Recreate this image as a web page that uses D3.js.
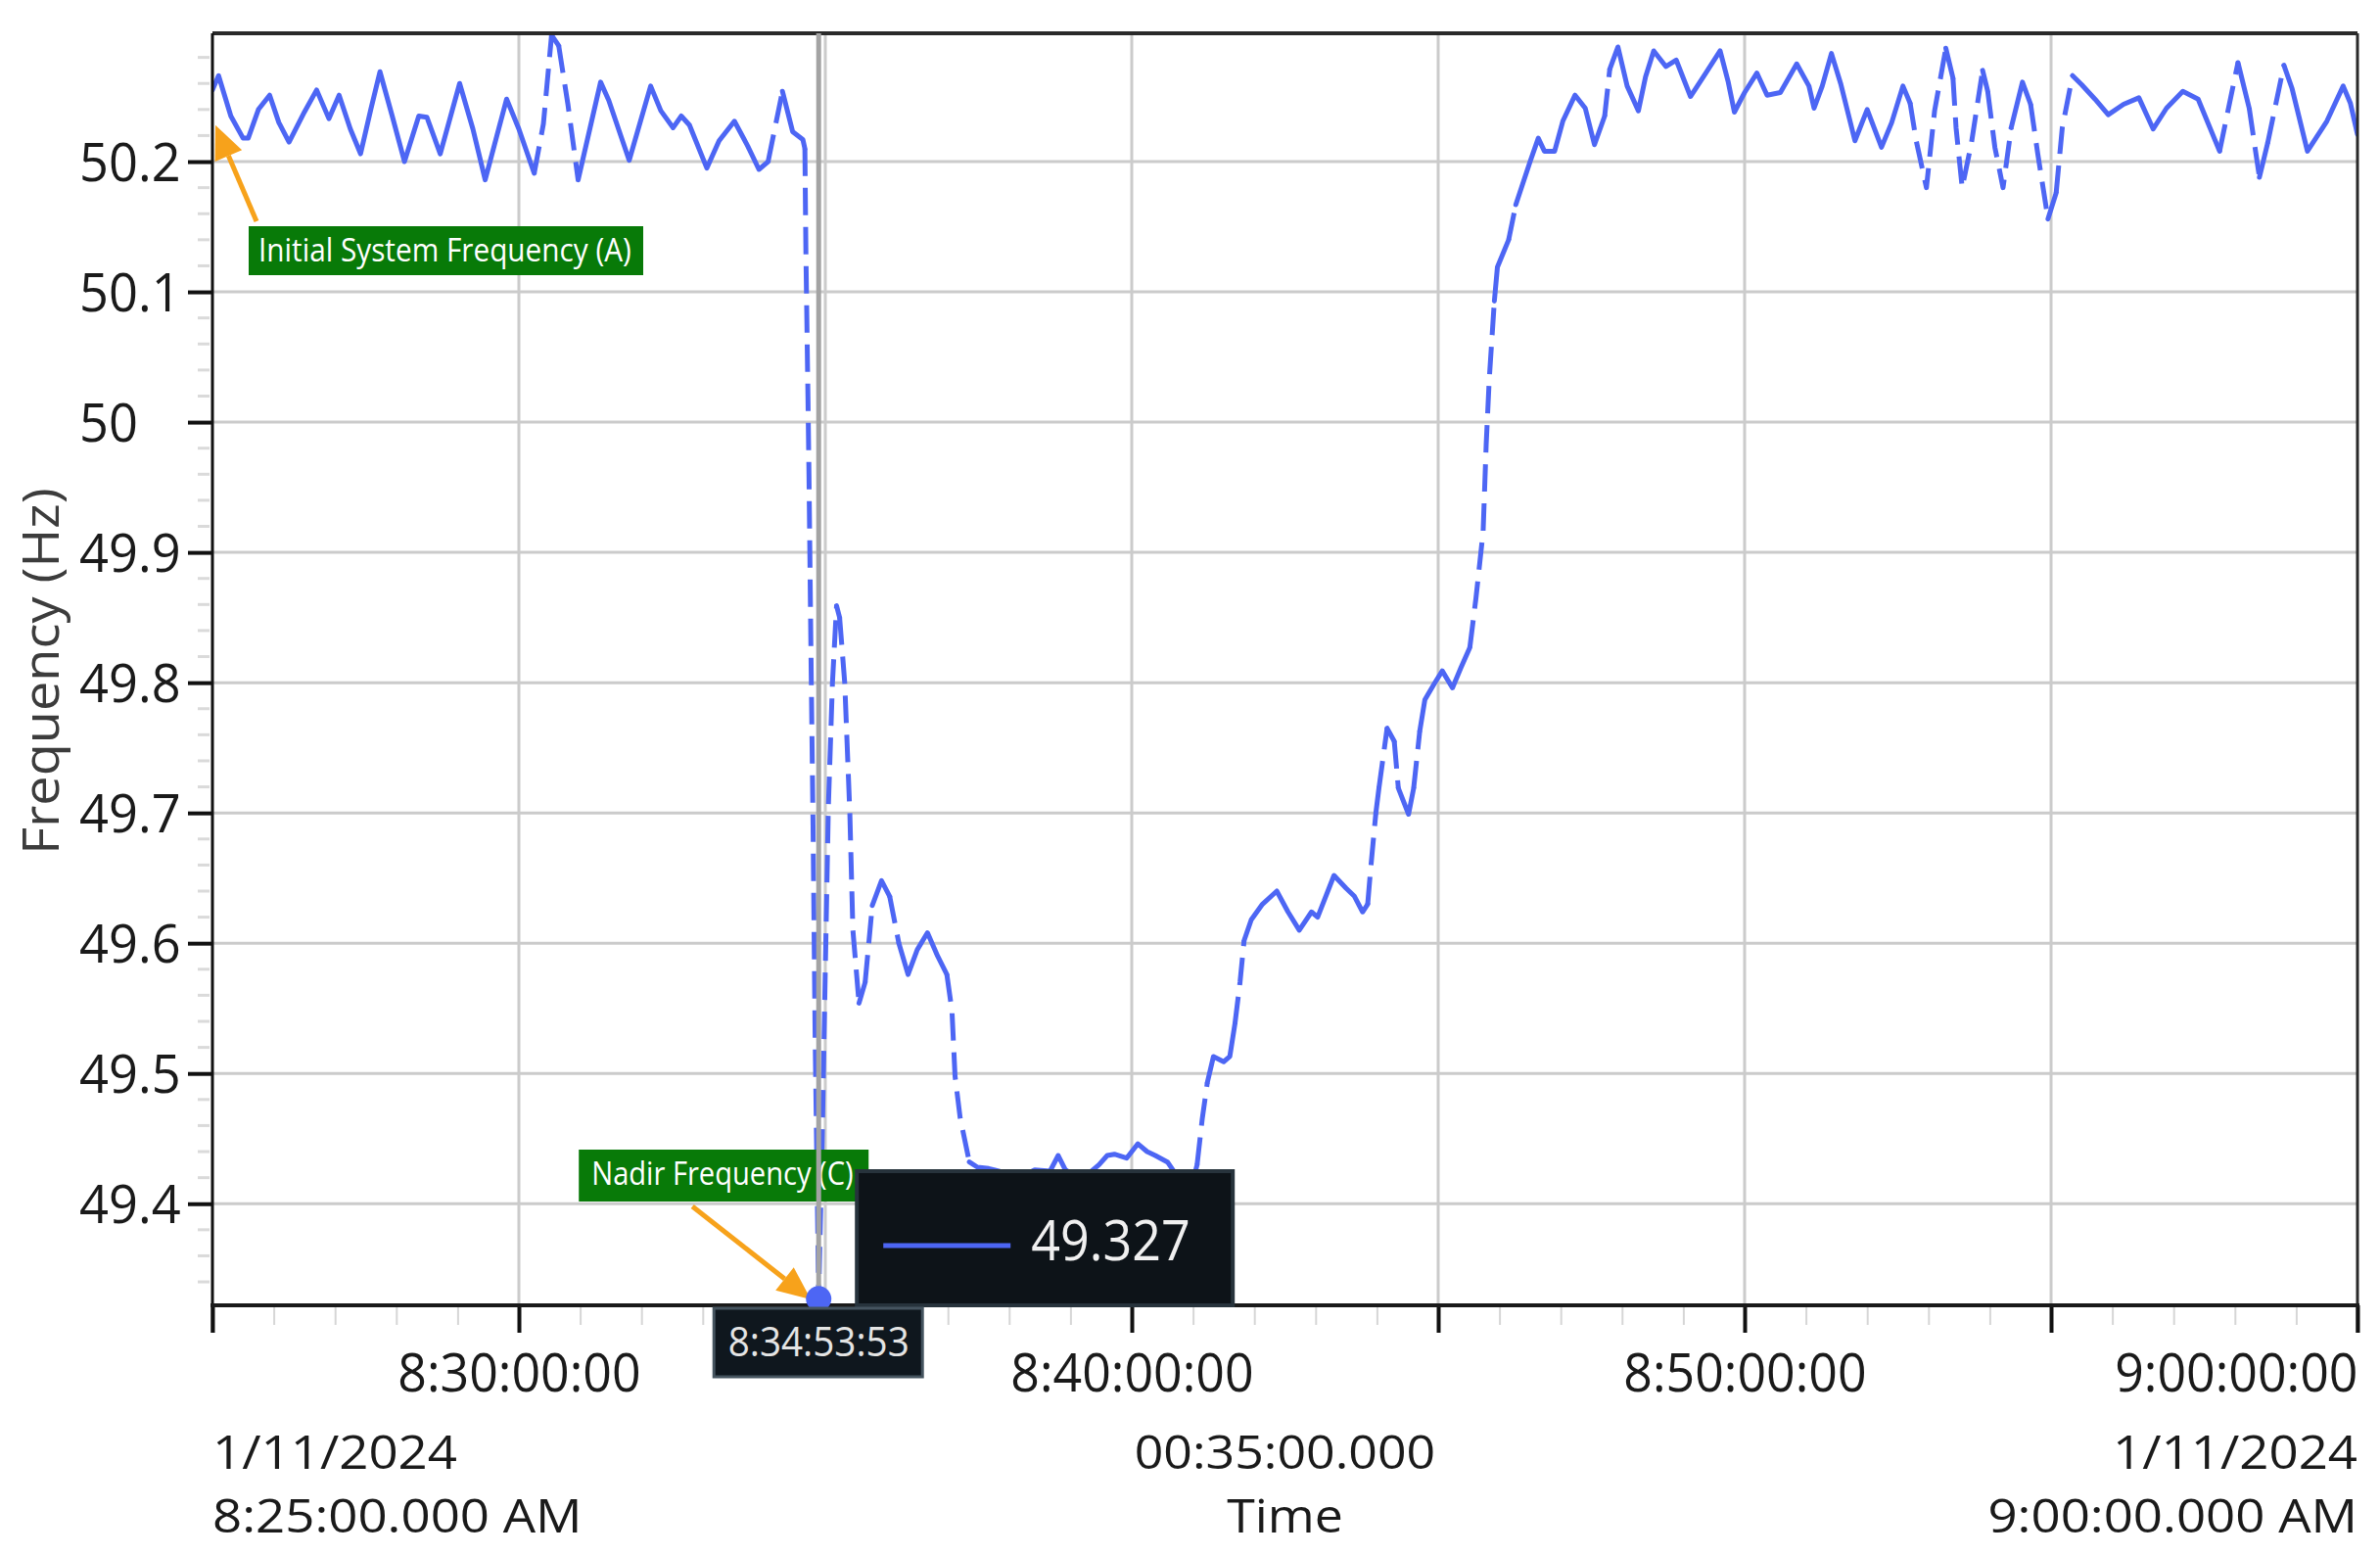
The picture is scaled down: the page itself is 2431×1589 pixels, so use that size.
<!DOCTYPE html>
<html>
<head>
<meta charset="utf-8">
<script src="https://cdn.jsdelivr.net/npm/d3@7"></script>
<style>
  body { margin: 0; background: #ffffff; }
  text { font-family: "Open Sans", "Noto Sans", sans-serif; }
</style>
</head>
<body>
<div id="chart_area"></div>
<script>
// frequency samples, [seconds after 8:25:00, Hz]
var beforeTrip = [[0,50.255],[6,50.266],[18,50.235],[30,50.218],[35,50.218],[45,50.240],[56,50.251],[65,50.230],[75,50.215],[90,50.238],[102,50.255],[114,50.233],[124,50.251],[135,50.225],[145,50.206],[155,50.240],[164,50.269],[176,50.235],[188,50.200],[202,50.235],[210,50.234],[223,50.206],[242,50.260],[255,50.225],[267,50.186],[288,50.248],[300,50.225],[315,50.191],[324,50.229],[332,50.297],[339,50.289],[348,50.244],[358,50.186],[380,50.261],[388,50.247],[408,50.201],[429,50.258],[439,50.239],[451,50.226],[459,50.235],[467,50.228],[484,50.195],[496,50.216],[511,50.231],[524,50.212],[535,50.194],[544,50.200],[558,50.254],[568,50.223],[578,50.217]];
var dropEvent = [[580,50.210],[581,50.130],[583,50.020],[584,49.960],[586,49.820],[588,49.690],[590,49.530],[593.5,49.327],[597,49.450],[600,49.580],[603,49.705],[607,49.800],[611,49.859],[614,49.850],[619,49.800],[624,49.700],[627,49.610],[633,49.554],[639,49.570],[646,49.629],[655,49.648],[663,49.636],[672,49.600],[681,49.576],[690,49.595],[700,49.608],[710,49.590],[719,49.576],[724,49.548],[727,49.498],[732,49.466],[741,49.432]];
var troughHold = [[749,49.428],[760,49.427],[775,49.424],[790,49.420],[805,49.426],[820,49.425],[828,49.437],[835,49.426],[850,49.418],[868,49.430],[876,49.437],[883,49.438],[895,49.435],[906,49.446],[915,49.440],[923,49.437],[935,49.432],[942,49.424],[950,49.415],[958,49.412],[964,49.430]];
var recovery = [[969,49.465],[974,49.493],[980,49.513],[990,49.509],[996,49.513],[1001,49.538],[1006,49.570],[1010,49.602],[1017,49.618],[1028,49.630],[1042,49.640],[1053,49.624],[1064,49.610],[1076,49.624],[1082,49.620],[1098,49.652],[1110,49.642],[1118,49.636],[1126,49.624],[1131,49.630],[1134,49.658],[1139,49.700],[1142,49.719],[1150,49.765],[1157,49.755],[1161,49.719],[1171,49.699],[1176,49.719],[1182,49.763],[1187,49.787],[1196,49.799],[1204,49.809],[1214,49.796],[1222,49.811],[1231,49.827],[1237,49.865],[1244,49.916],[1247,49.983],[1250,50.033],[1255,50.093],[1258,50.119],[1269,50.140],[1276,50.167],[1290,50.200],[1298,50.218],[1304,50.208],[1314,50.208],[1322,50.231],[1334,50.251],[1344,50.241],[1353,50.213],[1363,50.235],[1368,50.271],[1376,50.288]];
var afterRecovery = [[1385,50.258],[1396,50.239],[1403,50.265],[1411,50.285],[1423,50.273],[1433,50.278],[1447,50.250],[1462,50.268],[1476,50.285],[1484,50.261],[1490,50.238],[1500,50.253],[1512,50.268],[1522,50.251],[1535,50.253],[1551,50.275],[1563,50.258],[1568,50.241],[1576,50.258],[1585,50.283],[1594,50.260],[1608,50.216],[1620,50.240],[1634,50.211],[1644,50.230],[1655,50.258],[1662,50.245],[1668,50.216],[1678,50.180],[1686,50.239],[1697,50.287],[1704,50.264],[1707,50.226],[1713,50.180],[1722,50.214],[1733,50.270],[1738,50.254],[1745,50.211],[1753,50.180],[1761,50.226],[1772,50.261],[1780,50.244],[1787,50.206],[1797,50.156],[1805,50.176],[1811,50.226],[1821,50.266],[1830,50.259],[1843,50.248],[1856,50.236],[1871,50.244],[1886,50.249],[1900,50.225],[1913,50.241],[1929,50.254],[1944,50.248],[1965,50.208],[1983,50.276],[1994,50.241],[2004,50.188],[2012,50.214],[2028,50.274],[2036,50.256],[2051,50.208],[2070,50.231],[2086,50.258],[2093,50.245],[2100,50.221]];

// nadir cursor
var nadirPoint = [593.5, 49.327];
var nadirTimeLabel = "8:34:53:53";
var nadirValueLabel = "49.327";

// axis texts
var yTicks = [49.4, 49.5, 49.6, 49.7, 49.8, 49.9, 50, 50.1, 50.2];
var yTitle = "Frequency (Hz)";
var xTitle = "Time";
var leftDate = ["1/11/2024", "8:25:00.000 AM"];
var rightDate = ["1/11/2024", "9:00:00.000 AM"];
var spanLabel = "00:35:00.000";
var noteInitial = "Initial System Frequency (A)";
var noteNadir = "Nadir Frequency (C)";

var startTime = new Date(2024, 0, 11, 8, 25, 0);
var endTime = new Date(2024, 0, 11, 9, 0, 0);

// set the dimensions and margins of the graph
var margin = {top: 34, right: 23, bottom: 256, left: 217};
var width = 2431 - margin.left - margin.right;
var height = 1589 - margin.top - margin.bottom;

var lineBlue = "#4d66f4";
var gridGrey = "#cbcbcb";
var arrowOrange = "#f7a21b";
var labelGreen = "#087a08";

var svg = d3.select("#chart_area")
    .append("svg")
    .attr("width", 2431)
    .attr("height", 1589)
    .style("display", "block")
    .style("background", "#ffffff");

var toDate = function(s) { return new Date(startTime.getTime() + s * 1000); };

var xPosition = d3.scaleTime()
    .domain([startTime, endTime])
    .range([0, width]);

var yPosition = d3.scaleLinear()
    .domain([49.322, 50.2985])
    .range([height, 0]);

// text with horizontal squeeze
var label = function(parent, x, y, str, size, anchor, squeeze, fill) {
    return parent.append("text")
        .attr("transform", "translate(" + x + "," + y + ") scale(" + squeeze + ",1)")
        .attr("text-anchor", anchor)
        .attr("font-size", size)
        .attr("fill", fill)
        .text(str);
};

var plot = svg.append("g")
    .attr("transform", "translate(" + margin.left + "," + margin.top + ")");

// grid
var gridTimes = xPosition.ticks(d3.timeMinute.every(5)).filter(function(d) {
    return d > startTime && d < endTime;
});
plot.selectAll(".vgrid")
    .data(gridTimes)
    .enter().append("line")
    .attr("x1", d => xPosition(d)).attr("x2", d => xPosition(d))
    .attr("y1", 0).attr("y2", height)
    .attr("stroke", gridGrey).attr("stroke-width", 3);
plot.selectAll(".hgrid")
    .data(yTicks)
    .enter().append("line")
    .attr("x1", 0).attr("x2", width)
    .attr("y1", d => yPosition(d)).attr("y2", d => yPosition(d))
    .attr("stroke", gridGrey).attr("stroke-width", 3);

// minor ticks
var yMinor = d3.range(0, 50).map(i => +(49.32 + i * 0.02).toFixed(2))
    .filter(v => v >= 49.322 && v <= 50.2985 && Math.round(v * 100) % 10 !== 0);
plot.selectAll(".yminor")
    .data(yMinor)
    .enter().append("line")
    .attr("x1", -15).attr("x2", -3)
    .attr("y1", d => yPosition(d)).attr("y2", d => yPosition(d))
    .attr("stroke", "#dadada").attr("stroke-width", 3);

var xMinorAxis = d3.axisBottom(xPosition)
    .ticks(d3.timeMinute.every(1))
    .tickSize(20)
    .tickFormat("");
var xMinorG = plot.append("g")
    .attr("transform", "translate(0," + height + ")")
    .call(xMinorAxis);
xMinorG.select(".domain").remove();
xMinorG.selectAll(".tick line").attr("stroke", "#d6d6d6").attr("stroke-width", 2);

// frequency line
var series = beforeTrip.concat(dropEvent, troughHold, recovery, afterRecovery)
    .map(function(d) { return {date: toDate(d[0]), value: d[1]}; });

plot.append("clipPath")
    .attr("id", "plotClip")
    .append("rect")
    .attr("x", 0).attr("y", 0).attr("width", width).attr("height", height);

// steep stretches are drawn broken, as in the recorder trace
var runs = [];
var cur = null;
for (var i = 1; i < series.length; i++) {
    var dx = Math.abs(xPosition(series[i].date) - xPosition(series[i - 1].date));
    var dy = Math.abs(yPosition(series[i].value) - yPosition(series[i - 1].value));
    var steep = dy > 35 && dy > 4.5 * dx;
    if (!cur || cur.steep !== steep) {
        cur = {steep: steep, pts: [series[i - 1]]};
        runs.push(cur);
    }
    cur.pts.push(series[i]);
}

var line = d3.line()
    .x(d => xPosition(d.date))
    .y(d => yPosition(d.value));

plot.append("g")
    .attr("clip-path", "url(#plotClip)")
    .selectAll("path")
    .data(runs)
    .enter().append("path")
    .attr("d", d => line(d.pts))
    .attr("fill", "none")
    .attr("stroke", lineBlue)
    .attr("stroke-width", 5)
    .attr("stroke-linejoin", "round")
    .attr("stroke-linecap", d => d.steep ? "butt" : "round")
    .attr("stroke-dasharray", d => d.steep ? "28 12" : null);

// frame
plot.append("line")
    .attr("x1", 0).attr("x2", width).attr("y1", 0).attr("y2", 0)
    .attr("stroke", "#2a2a2a").attr("stroke-width", 4);
plot.append("line")
    .attr("x1", width).attr("x2", width).attr("y1", 0).attr("y2", height + 28)
    .attr("stroke", "#2a2a2a").attr("stroke-width", 3);

// y axis
var yAxis = d3.axisLeft(yPosition)
    .tickValues(yTicks)
    .tickSize(25)
    .tickFormat(d3.format("~g"));
var yG = plot.append("g").call(yAxis);
yG.select(".domain").remove();
yG.selectAll(".tick line").attr("stroke", "#111").attr("stroke-width", 4);
yG.selectAll(".tick text")
    .attr("x", null).attr("dy", null)
    .attr("transform", "translate(-136,19) scale(0.97,1)")
    .attr("text-anchor", "start")
    .attr("font-size", 54)
    .attr("font-family", "'Open Sans', 'Noto Sans', sans-serif")
    .attr("fill", "#1a1a1a");
plot.append("line")
    .attr("x1", 0).attr("x2", 0).attr("y1", 0).attr("y2", height + 28)
    .attr("stroke", "#111").attr("stroke-width", 3);

// x axis
var hmsf = function(d) { return d3.timeFormat("%-I:%M:%S")(d) + ":00"; };
var xAxis = d3.axisBottom(xPosition)
    .ticks(d3.timeMinute.every(5))
    .tickSize(28)
    .tickFormat(d => (d.getMinutes() % 10 === 0 && d > startTime) ? hmsf(d) : "");
var xG = plot.append("g")
    .attr("transform", "translate(0," + height + ")")
    .call(xAxis);
xG.select(".domain").remove();
xG.selectAll(".tick line").attr("stroke", "#111").attr("stroke-width", 4);
xG.selectAll(".tick text")
    .attr("y", null).attr("dy", null)
    .attr("transform", "translate(0,88) scale(0.96,1)")
    .attr("text-anchor", d => d.getTime() === endTime.getTime() ? "end" : "middle")
    .attr("font-size", 54)
    .attr("font-family", "'Open Sans', 'Noto Sans', sans-serif")
    .attr("fill", "#1a1a1a");
plot.append("line")
    .attr("x1", -2).attr("x2", width + 2).attr("y1", height).attr("y2", height)
    .attr("stroke", "#1a1a1a").attr("stroke-width", 4);

// date and span rows
label(plot, 0, height + 167, leftDate[0], 48, "start", 1.1, "#1a1a1a");
label(plot, 0, height + 232, leftDate[1], 48, "start", 1.1, "#1a1a1a");
label(plot, width, height + 167, rightDate[0], 48, "end", 1.1, "#1a1a1a");
label(plot, width, height + 232, rightDate[1], 48, "end", 1.1, "#1a1a1a");
label(plot, width / 2, height + 167, spanLabel, 48, "middle", 1.08, "#1a1a1a");
label(plot, width / 2, height + 232, xTitle, 48, "middle", 1.08, "#1a1a1a");

// y title
svg.append("text")
    .attr("transform", "translate(60," + (margin.top + height / 2 + 2) + ") rotate(-90) scale(1.04,1)")
    .attr("text-anchor", "middle")
    .attr("font-size", 52)
    .attr("fill", "#3c3c3c")
    .text(yTitle);

// arrow helper
var arrow = function(parent, x1, y1, x2, y2) {
    var ang = Math.atan2(y2 - y1, x2 - x1);
    var len = 34, half = 15;
    var bx = x2 - len * Math.cos(ang), by = y2 - len * Math.sin(ang);
    parent.append("line")
        .attr("x1", x1).attr("y1", y1).attr("x2", bx).attr("y2", by)
        .attr("stroke", arrowOrange).attr("stroke-width", 5);
    parent.append("path")
        .attr("d", "M" + x2 + "," + y2 +
            "L" + (bx + half * Math.sin(ang)) + "," + (by - half * Math.cos(ang)) +
            "L" + (bx - half * Math.sin(ang)) + "," + (by + half * Math.cos(ang)) + "Z")
        .attr("fill", arrowOrange);
};

var notes = svg.append("g");

// initial frequency note
notes.append("rect")
    .attr("x", 254).attr("y", 231).attr("width", 403).attr("height", 50)
    .attr("fill", labelGreen);
label(notes, 264, 267, noteInitial, 32, "start", 0.93, "#ffffff");
arrow(notes, 262, 226, margin.left + xPosition(startTime) + 3, margin.top + yPosition(50.228));

// nadir cursor
var cx = margin.left + xPosition(toDate(nadirPoint[0]));
var cy = margin.top + yPosition(nadirPoint[1]);

notes.append("rect")
    .attr("x", cx - 245).attr("y", 1174).attr("width", 296).attr("height", 53)
    .attr("fill", labelGreen);
label(notes, cx - 232, 1210, noteNadir, 32, "start", 0.91, "#ffffff");

notes.append("line")
    .attr("x1", cx).attr("x2", cx)
    .attr("y1", margin.top).attr("y2", margin.top + height)
    .attr("stroke", "#a3a3a3").attr("stroke-width", 5);

arrow(notes, cx - 129, 1232, cx - 8, 1327);

notes.append("circle")
    .attr("cx", cx).attr("cy", cy).attr("r", 13)
    .attr("fill", lineBlue);

// value tooltip
notes.append("rect")
    .attr("x", cx + 39).attr("y", 1196).attr("width", 384).attr("height", 137)
    .attr("fill", "#0d1318")
    .attr("stroke", "#27333c").attr("stroke-width", 4);
notes.append("line")
    .attr("x1", cx + 66).attr("x2", cx + 196).attr("y1", 1272).attr("y2", 1272)
    .attr("stroke", lineBlue).attr("stroke-width", 5);
label(notes, cx + 217, 1287, nadirValueLabel, 56, "start", 0.93, "#f0f0f0");

// time tooltip
notes.append("rect")
    .attr("x", cx - 107).attr("y", 1336).attr("width", 213).attr("height", 70)
    .attr("fill", "#0f171e")
    .attr("stroke", "#45545f").attr("stroke-width", 3);
label(notes, cx, 1385, nadirTimeLabel, 42, "middle", 0.92, "#e4e4e4");
</script>
</body>
</html>
